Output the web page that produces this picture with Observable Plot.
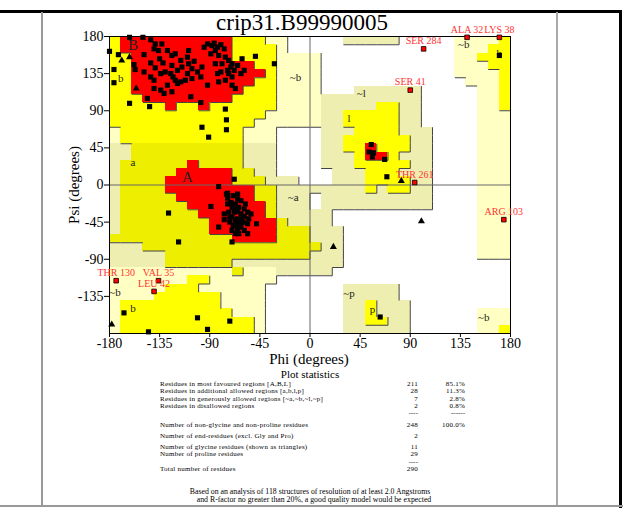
<!DOCTYPE html>
<html><head><meta charset="utf-8">
<script src="https://cdn.jsdelivr.net/npm/d3@7"></script>
<script src="https://cdn.jsdelivr.net/npm/@observablehq/plot@0.6"></script>
<style>
body{margin:0;background:#fff}
#page{position:relative;width:623px;height:508px;background:#fff;overflow:hidden;font-family:'Liberation Serif','Times New Roman',serif;color:#000}
.t{position:absolute;line-height:1;white-space:nowrap}
.bar{position:absolute}
</style></head>
<body>
<div id="page">
  <div id="chart" style="position:absolute;left:0;top:0"></div>
</div>
<script>
// ---------- data ----------
const title = "crip31.B99990005";
const xTicks = [-180, -135, -90, -45, 0, 45, 90, 135, 180];
const yTicks = [-135, -90, -45, 0, 45, 90, 135, 180];

// Region map, 10-degree cells, rows from psi 180 (top) down to -180, run-length coded
// R core, Y allowed, y allowed (darker shade), C generous, c generous (darker shade), . disallowed
const regionRows = [
  "Y R10 Y3 C2 .5 c5 .5 C4 Y",
  "Y R10 Y4 C .15 C3 Y2",
  "Y2 R9 Y4 C4 .12 C2 Y3",
  "Y2 R11 Y2 C4 .12 C3 Y2",
  "Y2 R12 Y C4 .12 C4 Y",
  "Y2 R11 Y2 C4 .13 C3 Y",
  "Y2 R10 Y3 C4 .3 c6 .5 C2 Y",
  "Y3 R8 Y4 C4 c9 .5 C2 Y",
  "Y5 R Y2 R Y6 C4 c5 Y2 c2 .5 C2 Y",
  "Y14 C5 c2 Y5 c2 .5 C3",
  "Y13 C6 c2 Y5 c2 .5 C3",
  "C Y11 C3 .4 c3 Y4 c3 .4 C3",
  "C Y11 C3 .4 c2 Y6 c2 .4 C3",
  "c2 y10 c3 .4 c2 Y2 R Y3 c2 .4 C3",
  "c2 y10 c3 .4 c3 Y R2 Y c3 .4 C3",
  "c y6 R y4 c3 .4 c3 Y5 c2 .4 C3",
  "c y5 R5 y2 c2 .5 c3 Y3 c3 .4 C3",
  "c y4 R6 y3 c3 .3 c3 Y4 c2 .4 C3",
  "c y4 R8 y2 c8 Y c Y2 c2 .4 C3",
  "c y5 R7 y2 c3 . c10 .4 C3",
  "c y6 R7 y c3 . c10 .4 C3",
  "c y7 R6 y c5 .13 C3",
  "c y8 R6 y c4 .13 C3",
  "c y8 R6 y3 c3 .12 C3",
  "y11 R4 y3 c3 .12 C3",
  "c3 y16 c2 .12 C3",
  "c5 y13 c3 .12 C3",
  "c5 y6 c10 .15",
  "C11 y C3 c5 .16",
  "C7 Y2 C6 .21",
  "C5 Y3 C6 .7 c5 .10",
  "C4 Y6 C4 .7 c5 .10",
  "C Y9 C4 .7 c2 Y c3 .9",
  "C Y10 C3 .7 c2 Y c3 .6 C3",
  "C Y12 C .7 c2 Y2 c2 .6 C3",
  "C Y12 C .7 c6 .6 C2 Y"
];
const regionColors = {R: "#ff0000", Y: "#ffff00", y: "#eeee00", C: "#ffffc4", c: "#eeeeb0"};
const regionLevel = {R: 3, Y: 2, y: 2, C: 1, c: 1, ".": 0};

// residues (phi, psi): non-glycine shown as squares
const residues = [
  [-143,176],[-139,171],[-133,171],[-140,165],[-149,158],[-124,157],[-132,148],[-135,153],[-143,148],[-158,146],
  [-157,140],[-139,142],[-134,135],[-130,137],[-124,145],[-116,151],[-115,143],[-119,139],[-125,135],[-123,131],
  [-121,127],[-116,125],[-110,135],[-106,141],[-109,147],[-106,129],[-98,131],[-101,137],[-97,143],[-92,171],
  [-88,169],[-85,163],[-80,170],[-77,165],[-89,159],[-82,157],[-76,155],[-73,151],[-70,147],[-71,143],
  [-74,139],[-68,139],[-73,135],[-80,137],[-83,135],[-65,145],[-61,153],[-59,139],[-62,135],[-70,131],
  [-76,127],[-82,125],[-92,121],[-112,127],[-119,123],[-124,113],[-134,115],[-131,111],[-107,107],[-98,100],
  [-86,172],[-83,167],[-95,167],[-109,163],[-110,155],[-104,150],[-136,163],[-128,163],[-121,159],[-149,137],
  [-143,131],[-140,127],[-85,147],[-79,147],[-70,121],[-67,117],[-140,117],[-128,121],
  [-162,179],[-150,179],[-180,162],[-172,158],[-176,140],[-176,124],[-162,99],[-146,105],[-144,95],
  [-76,92],[-75,79],[-75,67],[-97,70],[-91,58],[-32,147],[-49,156],
  [-68,7],[-82,-2],[-89,-26],[-82,-51],[-70,-69],[-48,-47],[-127,-34],[-118,-69],[-74,-10],[-65,-11],
  [-75,-11],[-74,-16],[-69,-13],[-65,-17],[-67,-23],[-70,-27],[-64,-27],[-59,-29],[-73,-33],[-68,-33],
  [-62,-35],[-56,-33],[-70,-39],[-65,-41],[-61,-41],[-55,-41],[-77,-42],[-72,-45],[-67,-47],[-62,-49],
  [-56,-47],[-65,-53],[-59,-55],[-70,-55],[-64,-59],[-56,-59],[-74,-23],[-77,-35],[-67,-59],[-53,-35],
  [-62,-19],[-58,-23],[-68,-29],[-65,-32],[-60,-45],[-69,-49],[-64,-45],[-59,-38],[-71,-21],[-63,-51],
  [-67,-43],[-72,-39],
  [-167,-155],[-101,-161],[-92,-175],[-145,-178],[-72,-165],[63,-160],
  [55,49],[53,40],[57,39],[56,34],[67,31],[69,10],[170,157]
];
// glycines shown as triangles
const glycines = [[-162,155],[-169,151],[-156,117],[82,5],[100,-44],[21,-75],[-178,-169]];

// labelled residues outside allowed regions
const outlierNames = ["SER 284","ALA 32","LYS 38","SER 41","THR 261","ARG 103","THR 130","VAL 35","LEU 42"];
const outlierPhi   = [102, 141, 170, 90, 94, 174, -174, -136, -140];
const outlierPsi   = [165, 179, 179, 115, 3, -42, -116, -116, -129];

// region labels
const regionLabelText = ["B","A","b","~b","a","~a","~l","l","~b","b","~p","p","~b","~b","b"];
const regionLabelPhi  = [-159,-110,-170,-13,-159,-15,46,35,138,170,35,56,156,-175,-159];
const regionLabelPsi  = [169,9,129,130,27,-15,111,81,170,159,-131,-151,-161,-130,-150];

// statistics
const statLabels = [
  "Residues in most favoured regions  [A,B,L]",
  "Residues in additional allowed regions  [a,b,l,p]",
  "Residues in generously allowed regions  [~a,~b,~l,~p]",
  "Residues in disallowed regions",
  "Number of non-glycine and non-proline residues",
  "Number of end-residues (excl. Gly and Pro)",
  "Number of glycine residues (shown as triangles)",
  "Number of proline residues",
  "Total number of residues"
];
const statCounts = ["211","28","7","2","248","2","11","29","290"];
const statPercents = ["85.1%","11.3%","2.8%","0.8%","100.0%","","","",""];
const footerLines = [
  "Based on an analysis of 118 structures of resolution of at least 2.0 Angstroms",
  "and R-factor no greater than 20%, a good quality model would be expected"
];

// ---------- build tables ----------
const grid = [];
const cells = [];
regionRows.forEach((row, r) => {
  let c = 0;
  const codes = [];
  for (const tok of row.split(" ")) {
    const code = tok[0];
    const n = tok.length > 1 ? +tok.slice(1) : 1;
    if (code !== ".") cells.push({code, x1: -180 + 10 * c, x2: -180 + 10 * (c + n), y1: 170 - 10 * r, y2: 180 - 10 * r});
    for (let k = 0; k < n; k++) codes.push(code);
    c += n;
  }
  if (codes.length !== 36) console.warn("row", r, "has", codes.length);
  grid.push(codes);
});
const edges = [];
for (let r = 0; r < 36; r++) for (let c = 0; c < 36; c++) {
  const L = regionLevel[grid[r][c]];
  if (!L) continue;
  if (c < 35 && regionLevel[grid[r][c + 1]] < L) edges.push({x1: -170 + 10 * c, x2: -170 + 10 * c, y1: 180 - 10 * r, y2: 170 - 10 * r});
  if (r < 35 && regionLevel[grid[r + 1][c]] < L) edges.push({x1: -180 + 10 * c, x2: -170 + 10 * c, y1: 170 - 10 * r, y2: 170 - 10 * r});
}
const outliers = outlierNames.map((name, i) => ({name, phi: outlierPhi[i], psi: outlierPsi[i]}));
const regionLabels = regionLabelText.map((t, i) => ({t, phi: regionLabelPhi[i], psi: regionLabelPsi[i], big: t === "A" || t === "B"}));

const serif = "'Liberation Serif','Times New Roman',serif";
const chart = Plot.plot({
  width: 623, height: 370,
  marginLeft: 109, marginRight: 113, marginTop: 36, marginBottom: 37,
  x: {domain: [-180, 180]},
  y: {domain: [-180, 180]},
  color: {type: "identity"},
  style: {fontFamily: serif, fontSize: "14px", background: "transparent", overflow: "visible", color: "#000"},
  marks: [
    Plot.rect(cells, {x1: "x1", x2: "x2", y1: "y1", y2: "y2", fill: d => regionColors[d.code], shapeRendering: "crispEdges"}),
    Plot.link(edges, {x1: "x1", y1: "y1", x2: "x2", y2: "y2", stroke: "#444", strokeWidth: 1}),
    Plot.ruleX([0], {stroke: "#666", strokeWidth: 1}),
    Plot.ruleY([0], {stroke: "#666", strokeWidth: 1}),
    Plot.frame({stroke: "#000", strokeWidth: 1}),
    Plot.axisX({ticks: xTicks, tickSize: 4, tickPadding: 1, tickFormat: d => `${d}`, label: null}),
    Plot.axisY({ticks: yTicks, tickSize: 5, tickPadding: 1, tickFormat: d => `${d}`, label: null}),
    Plot.text(regionLabels.filter(d => !d.big), {x: "phi", y: "psi", text: "t", fontSize: 11, fill: "#222"}),
    Plot.text(regionLabels.filter(d => d.big), {x: "phi", y: "psi", text: "t", fontSize: 15, fill: "#222"}),
    Plot.dot(residues, {x: d => d[0], y: d => d[1], symbol: "square", r: 2.9, fill: "#000", stroke: "none"}),
    Plot.dot(glycines, {x: d => d[0], y: d => d[1], symbol: "triangle", r: 2.6, fill: "#000", stroke: "none"}),
    Plot.dot(outliers, {x: "phi", y: "psi", symbol: "square", r: 2.6, fill: "#ff0000", stroke: "#000", strokeWidth: 0.8}),
    Plot.text(outliers, {x: "phi", y: "psi", text: "name", dy: -8, fontSize: 10, fill: "#ff3333"})
  ]
});
document.getElementById("chart").appendChild(chart);

// ---------- page texts & decorations ----------
const page = document.getElementById("page");
function box(left, top, w, h, color) {
  const d = document.createElement("div");
  d.className = "bar";
  Object.assign(d.style, {left: left + "px", top: top + "px", width: w + "px", height: h + "px", background: color});
  page.appendChild(d);
}
function txt(s, x, baseline, fs, anchor = "start", ls = 0) {
  const d = document.createElement("div");
  d.className = "t";
  d.textContent = s;
  const tx = anchor === "middle" ? "-50%" : anchor === "end" ? "-100%" : "0";
  Object.assign(d.style, {left: x + "px", top: (baseline - 0.84 * fs) + "px", fontSize: fs + "px", letterSpacing: ls + "px", transform: `translateX(${tx})`});
  page.appendChild(d);
  return d;
}
box(0, 10, 622, 3, "#000");
box(619, 10, 3, 498, "#000");
box(41, 12, 2, 495, "#999");
box(556, 12, 2, 495, "#aaa");
box(0, 505, 623, 2, "#999");

txt(title, 302, 30, 23, "middle");
txt("Phi (degrees)", 309, 365, 15, "middle");
const psiLab = txt("Psi (degrees)", 0, 0, 15, "start");
Object.assign(psiLab.style, {left: "74px", top: "185px", transform: "translate(-50%,-50%) rotate(-90deg)", transformOrigin: "50% 50%"});

txt("Plot statistics", 310, 378.5, 11, "middle");
const fs = 7;
const ls = 0.25;
const statY = [387, 394.2, 401.4, 408.6, 428, 439, 450, 457.2, 472.2];
statLabels.forEach((s, i) => {
  txt(s, 160, statY[i], fs, "start", ls);
  txt(statCounts[i], 418, statY[i], fs, "end", ls);
  if (statPercents[i]) txt(statPercents[i], 465, statY[i], fs, "end", ls);
});
txt("----", 418, 416, fs, "end");
txt("------", 465, 416, fs, "end");
txt("----", 418, 464.8, fs, "end");
txt(footerLines[0], 310, 495, 7.8, "middle");
txt(footerLines[1], 314, 503, 7.8, "middle");
</script>
</body></html>
